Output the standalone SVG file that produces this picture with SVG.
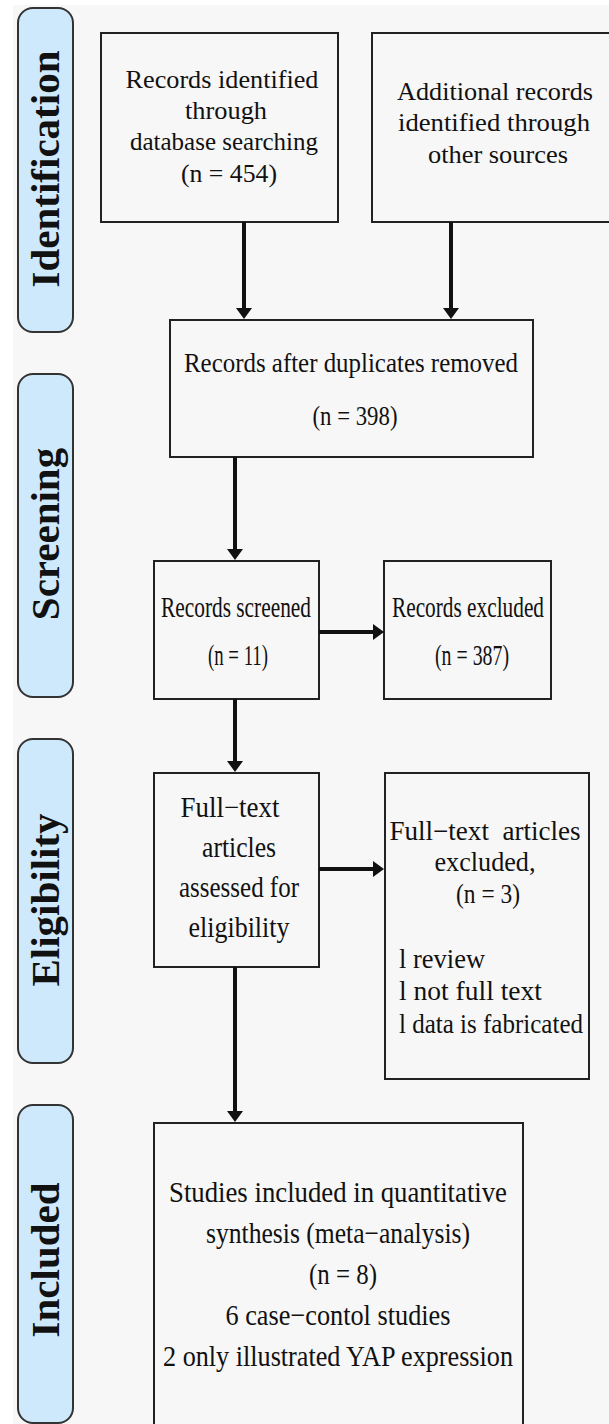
<svg xmlns="http://www.w3.org/2000/svg" width="609" height="1424" viewBox="0 0 609 1424">
  <style>
    .bg { fill: #f7f7f7; }
    .box { fill: none; stroke: #222; stroke-width: 2; }
    .pill { fill: #cde9fb; stroke: #333; stroke-width: 2; }
    .stage { font-family: "Liberation Serif", serif; font-weight: bold; font-size: 41px; fill: #111; text-anchor: middle; }
    .t { font-family: "Liberation Serif", serif; fill: #111; text-anchor: middle; }
    .tl { font-family: "Liberation Serif", serif; fill: #111; text-anchor: start; }
    .arrow { stroke: #111; stroke-width: 4; fill: none; marker-end: url(#head); }
  </style>
  <defs>
    <marker id="head" markerUnits="userSpaceOnUse" viewBox="0 -8 11 16" refX="0" refY="0" markerWidth="11" markerHeight="16" orient="auto">
      <path d="M0,-8 L11,0 L0,8 z" fill="#111"/>
    </marker>
  </defs>

  <rect x="0" y="0" width="609" height="1424" fill="#ffffff"/>
  <rect class="bg" x="13" y="5" width="596" height="1419"/>

  <g id="stage-identification">
    <rect class="pill" x="18" y="8" width="55" height="324" rx="15"/>
    <text class="stage" transform="translate(59,169) rotate(-90)">Identification</text>
  </g>
  <g id="stage-screening">
    <rect class="pill" x="18" y="374" width="55" height="323" rx="15"/>
    <text class="stage" transform="translate(59,534) rotate(-90)">Screening</text>
  </g>
  <g id="stage-eligibility">
    <rect class="pill" x="18" y="739" width="55" height="324" rx="15"/>
    <text class="stage" transform="translate(59,900) rotate(-90)">Eligibility</text>
  </g>
  <g id="stage-included">
    <rect class="pill" x="18" y="1105" width="55" height="318" rx="15"/>
    <text class="stage" transform="translate(59,1260) rotate(-90)">Included</text>
  </g>

  <g id="node-database">
    <rect class="box" x="101" y="33" width="237" height="189"/>
    <text class="t" font-size="26" x="222" y="88" textLength="193" lengthAdjust="spacingAndGlyphs">Records identified</text>
    <text class="t" font-size="26" x="226" y="119" textLength="82" lengthAdjust="spacingAndGlyphs">through</text>
    <text class="t" font-size="26" x="224" y="150" textLength="188" lengthAdjust="spacingAndGlyphs">database searching</text>
    <text class="t" font-size="26" x="229" y="182" textLength="96" lengthAdjust="spacingAndGlyphs">(n = 454)</text>
  </g>

  <g id="node-other">
    <rect class="box" x="372" y="33" width="245" height="189"/>
    <text class="t" font-size="26" x="495" y="100" textLength="196" lengthAdjust="spacingAndGlyphs">Additional records</text>
    <text class="t" font-size="26" x="494" y="131" textLength="192" lengthAdjust="spacingAndGlyphs">identified through</text>
    <text class="t" font-size="26" x="498" y="163" textLength="140" lengthAdjust="spacingAndGlyphs">other sources</text>
  </g>

  <g id="node-duplicates">
    <rect class="box" x="170" y="320" width="363" height="137"/>
    <text class="t" font-size="27" x="351" y="372" textLength="334" lengthAdjust="spacingAndGlyphs">Records after duplicates removed</text>
    <text class="t" font-size="28" x="355" y="425" textLength="85" lengthAdjust="spacingAndGlyphs">(n = 398)</text>
  </g>

  <g id="node-screened">
    <rect class="box" x="154" y="561" width="165" height="138"/>
    <text class="t" font-size="30" x="236" y="617" textLength="150" lengthAdjust="spacingAndGlyphs">Records screened</text>
    <text class="t" font-size="30" x="238" y="665" textLength="60" lengthAdjust="spacingAndGlyphs">(n = 11)</text>
  </g>

  <g id="node-excluded">
    <rect class="box" x="384" y="561" width="167" height="138"/>
    <text class="t" font-size="30" x="468" y="617" textLength="152" lengthAdjust="spacingAndGlyphs">Records excluded</text>
    <text class="t" font-size="30" x="472" y="665" textLength="74" lengthAdjust="spacingAndGlyphs">(n = 387)</text>
  </g>

  <g id="node-fulltext">
    <rect class="box" x="154" y="773" width="165" height="194"/>
    <text class="t" font-size="29" x="230" y="817" textLength="99" lengthAdjust="spacingAndGlyphs">Full−text</text>
    <text class="t" font-size="29" x="239" y="857" textLength="74" lengthAdjust="spacingAndGlyphs">articles</text>
    <text class="t" font-size="29" x="239" y="897" textLength="120" lengthAdjust="spacingAndGlyphs">assessed for</text>
    <text class="t" font-size="29" x="239" y="937" textLength="101" lengthAdjust="spacingAndGlyphs">eligibility</text>
  </g>

  <g id="node-fulltext-excluded">
    <rect class="box" x="385" y="773" width="204" height="306"/>
    <text class="t" font-size="27" x="485" y="840" textLength="191" lengthAdjust="spacingAndGlyphs" xml:space="preserve">Full−text  articles</text>
    <text class="t" font-size="27" x="485" y="871" textLength="101" lengthAdjust="spacingAndGlyphs">excluded,</text>
    <text class="t" font-size="27" x="488" y="903" textLength="64" lengthAdjust="spacingAndGlyphs">(n = 3)</text>
    <text class="tl" font-size="27" x="399" y="968" textLength="86" lengthAdjust="spacingAndGlyphs">l review</text>
    <text class="tl" font-size="27" x="399" y="1000" textLength="143" lengthAdjust="spacingAndGlyphs">l not full text</text>
    <text class="tl" font-size="27" x="399" y="1033" textLength="184" lengthAdjust="spacingAndGlyphs">l data is fabricated</text>
  </g>

  <g id="node-included">
    <rect class="box" x="154" y="1123" width="369" height="310"/>
    <text class="t" font-size="30" x="338" y="1202" textLength="338" lengthAdjust="spacingAndGlyphs">Studies included in quantitative</text>
    <text class="t" font-size="30" x="338" y="1243" textLength="264" lengthAdjust="spacingAndGlyphs">synthesis (meta−analysis)</text>
    <text class="t" font-size="30" x="343" y="1284" textLength="68" lengthAdjust="spacingAndGlyphs">(n = 8)</text>
    <text class="t" font-size="30" x="338" y="1325" textLength="225" lengthAdjust="spacingAndGlyphs">6 case−contol studies</text>
    <text class="t" font-size="30" x="338" y="1366" textLength="350" lengthAdjust="spacingAndGlyphs">2 only illustrated YAP expression</text>
  </g>

  <g id="connectors">
    <line class="arrow" x1="244" y1="222" x2="244" y2="308"/>
    <line class="arrow" x1="451" y1="222" x2="451" y2="308"/>
    <line class="arrow" x1="235" y1="457" x2="235" y2="549"/>
    <line class="arrow" x1="319" y1="632" x2="373" y2="632"/>
    <line class="arrow" x1="235" y1="699" x2="235" y2="761"/>
    <line class="arrow" x1="319" y1="869" x2="373" y2="869"/>
    <line class="arrow" x1="235" y1="967" x2="235" y2="1111"/>
  </g>
</svg>
